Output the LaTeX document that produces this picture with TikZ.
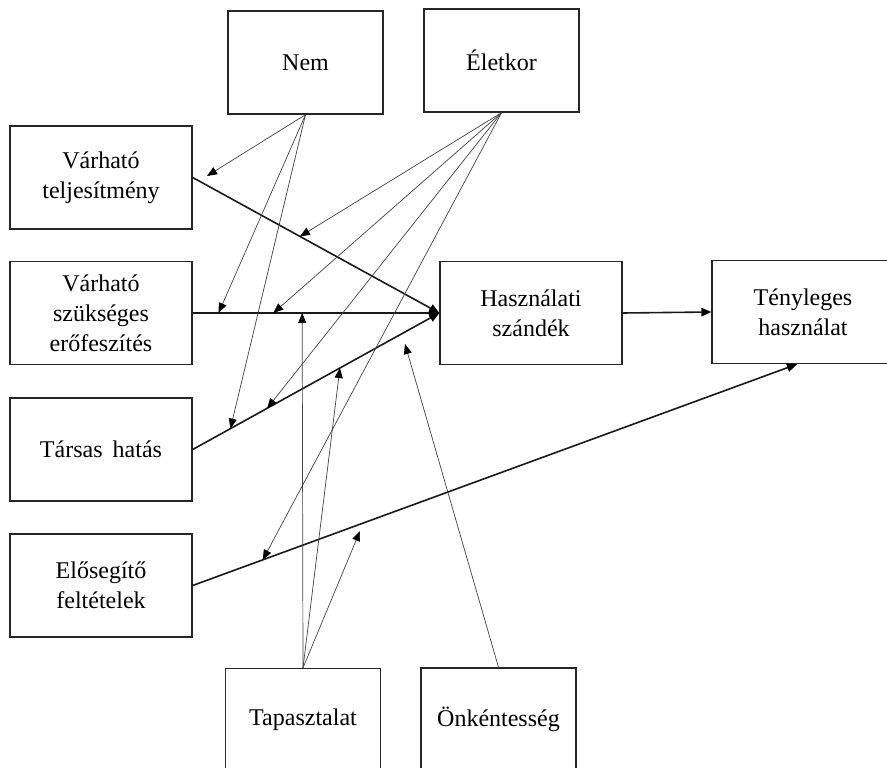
\documentclass[tikz,border=0pt]{standalone}
\usepackage{fontspec}
\setmainfont{Liberation Serif}
\usetikzlibrary{arrows.meta,calc}

\begin{document}
\begin{tikzpicture}[x=1pt,y=-1pt,
  box/.style={draw=black!85, line width=1.4pt, minimum width=182pt,
    minimum height=103pt, align=center, inner sep=0pt,
    font=\fontsize{24}{30}\selectfont},
  smallbox/.style={box, minimum width=155pt},
  mainarrow/.style={line width=1.6pt, draw=black!90,
    -{Triangle[length=10pt,width=8.5pt,color=black]}},
  modarrow/.style={line width=0.7pt, draw=black!75,
    -{Triangle[length=10pt,width=8pt,color=black]}}]

\useasboundingbox (0,0) rectangle (887,768);

% constructs
\node[smallbox] (nem)  at (305.5,62.5)  {Nem};
\node[smallbox] (elet) at (501.5,60.5)  {Életkor};
\node[box] (vt)   at (101,177.5) {Várható\\teljesítmény};
\node[box] (vsz)  at (101,313)   {Várható\\szükséges\\erőfeszítés};
\node[box] (tars) at (101,449.5) {Társas\hspace{0.42em}hatás};
\node[box] (ef)   at (101,585.5) {Elősegítő\\feltételek};
\node[box] (hsz)  at (531,313)   {Használati\\szándék};
\node[box] (teny) at (803,312)   {Tényleges\\használat};
\node[smallbox] (tap) at (303,720)   {Tapasztalat};
\node[smallbox] (onk) at (498.5,719.5) {Önkéntesség};

% main paths
\coordinate (tenyin) at ($(teny.south west)!0.467!(teny.south east)$);
\draw[mainarrow] (vt.east)   -- (hsz.west);
\draw[mainarrow] (vsz.east)  -- (hsz.west);
\draw[mainarrow] (tars.east) -- (hsz.west);
\draw[mainarrow] (ef.east)   -- (tenyin);
\draw[mainarrow] (hsz.east)  -- (teny.west);

% points where the moderators meet the paths
\coordinate (e1) at ($(vt.east)!0.435!(hsz.west)$);
\coordinate (n2) at ($(vsz.east)!0.105!(hsz.west)$);
\coordinate (e2) at ($(vsz.east)!0.327!(hsz.west)$);
\coordinate (t2) at ($(vsz.east)!0.444!(hsz.west)$);
\coordinate (n3) at ($(tars.east)!0.153!(hsz.west)$);
\coordinate (e3) at ($(tars.east)!0.302!(hsz.west)$);
\coordinate (t3) at ($(tars.east)!0.597!(hsz.west)$);
\coordinate (e4) at ($(ef.east)!0.116!(tenyin)$);
\coordinate (n1) at (207,176);
\coordinate (t4) at (360,531);
\coordinate (o1) at (405,344);

% moderators
\draw[modarrow] (nem.south) -- (n1);
\draw[modarrow] (nem.south) -- (n2);
\draw[modarrow] (nem.south) -- (n3);
\draw[modarrow] (elet.south) -- (e1);
\draw[modarrow] (elet.south) -- (e2);
\draw[modarrow] (elet.south) -- (e3);
\draw[modarrow] (elet.south) -- (e4);
\draw[modarrow] (tap.north) -- (t2);
\draw[modarrow] (tap.north) -- (t3);
\draw[modarrow] (tap.north) -- (t4);
\draw[modarrow] (onk.north) -- (o1);
\end{tikzpicture}
\end{document}
